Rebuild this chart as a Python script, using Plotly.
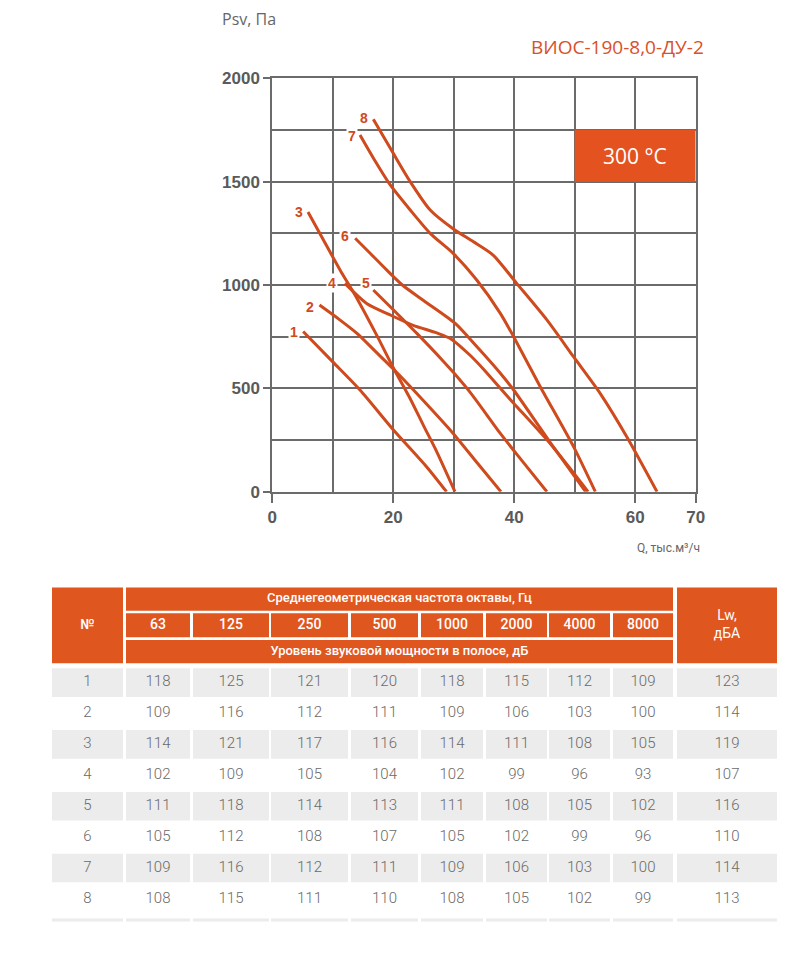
import plotly.graph_objects as go

W, H = 810, 968

# ---------------- chart data ----------------
curve_names = ["1", "2", "3", "4", "5", "6", "7", "8"]
q1 = [5.1, 10, 14.5, 20, 25.5, 28.8]
p1 = [775, 628, 492, 300, 121, 0]
q2 = [7.8, 11, 14, 17, 20.3, 25, 29.9, 34, 37.8]
p2 = [903, 835, 766, 680, 585, 440, 282, 135, 0]
q3 = [5.9, 8.5, 11.2, 14, 17.3, 20, 22.8, 25, 27, 30.2]
p3 = [1353, 1215, 1073, 935, 755, 600, 450, 320, 205, 0]
q4 = [12, 15.6, 19.5, 23.3, 27.2, 29.6, 32.7, 35, 37.7, 39.9, 45.9, 52.2]
p4 = [1008, 911, 855, 805, 768, 738, 660, 590, 500, 428, 234, 0]
q5 = [16.7, 19.5, 23.9, 28, 30, 33, 37.7, 41, 45.4]
p5 = [976, 895, 766, 640, 575, 470, 282, 160, 0]
q6 = [13.7, 16.3, 18.9, 21.5, 25, 30.2, 33.8, 37.7, 39.9, 45.9, 51.8]
p6 = [1226, 1150, 1073, 1000, 925, 815, 702, 573, 492, 240, 0]
q7 = [14.5, 17, 19.5, 22.8, 26.1, 29.9, 33.8, 37.7, 39.9, 44.3, 49.8, 53.4]
p7 = [1726, 1600, 1484, 1363, 1250, 1153, 1024, 863, 750, 508, 218, 0]
q8 = [16.7, 20, 22.8, 26.1, 30, 33.2, 36.5, 40.4, 45.4, 49.8, 54.2, 58.6, 63.6]
p8 = [1802, 1637, 1500, 1363, 1270, 1210, 1145, 1008, 831, 653, 476, 266, 0]
curves_q = [q1, q2, q3, q4, q5, q6, q7, q8]
curves_p = [p1, p2, p3, p4, p5, p6, p7, p8]

x_ticks = [0, 20, 40, 60, 70]
x_minor = [10, 30, 50]
y_ticks = [0, 500, 1000, 1500, 2000]
y_minor = [250, 750, 1250, 1750]

title_text = "ВИОС-190-8,0-ДУ-2"
y_title = "Psv, Па"
x_title = "Q, тыс.м³/ч"
temp_text = "300 °C"
temp_box_q = [50, 70]
temp_box_p = [1500, 1750]

# ---------------- table data ----------------
col_no_title = "№"
freq_title = "Среднегеометрическая частота октавы, Гц"
level_title = "Уровень звуковой мощности в полосе, дБ"
lw_title = "Lw,<br>дБА"
freqs = ["63", "125", "250", "500", "1000", "2000", "4000", "8000"]
row_ids = ["1", "2", "3", "4", "5", "6", "7", "8"]
levels = [
    [118, 125, 121, 120, 118, 115, 112, 109],
    [109, 116, 112, 111, 109, 106, 103, 100],
    [114, 121, 117, 116, 114, 111, 108, 105],
    [102, 109, 105, 104, 102, 99, 96, 93],
    [111, 118, 114, 113, 111, 108, 105, 102],
    [105, 112, 108, 107, 105, 102, 99, 96],
    [109, 116, 112, 111, 109, 106, 103, 100],
    [108, 115, 111, 110, 108, 105, 102, 99],
]
lw_values = [123, 114, 119, 107, 116, 110, 114, 113]

# ---------------- styles ----------------
LINE = "#cf4a1c"
ORANGE = "#e0561f"
GRID = "#6b6b6b"
TXT = "#5a5a5a"
ROWGRAY = "#ececec"
label_xshift = [-9, -9, -9, -13, -7, -10, -8, -9]
label_yshift = [0, -2, 0, 0, 7, 2, -1, 1]

# plot area in pixels
PX0, PX1 = 272.3, 695.7
PY0, PY1 = 491.7, 78.3

fig = go.Figure()

for name, q, p, dx, dy in zip(curve_names, curves_q, curves_p, label_xshift, label_yshift):
    fig.add_trace(go.Scatter(
        x=q, y=p, mode="lines",
        line=dict(color=LINE, width=3, shape="spline", smoothing=0.7),
        hoverinfo="skip", showlegend=False, xaxis="x", yaxis="y"))
    fig.add_annotation(
        x=q[0], y=p[0], xref="x", yref="y", text=name, showarrow=False,
        xanchor="center", yanchor="middle", xshift=dx, yshift=dy,
        bgcolor="white", borderpad=1,
        font=dict(family="Liberation Sans", size=14, color=LINE, weight="bold"))

# temperature box
fig.add_shape(type="rect", xref="x", yref="y",
              x0=temp_box_q[0], x1=temp_box_q[1], y0=temp_box_p[0], y1=temp_box_p[1],
              fillcolor="#e4531f", line=dict(width=0), layer="above")
fig.add_annotation(x=sum(temp_box_q) / 2, y=sum(temp_box_p) / 2, xref="x", yref="y",
                   text=temp_text, showarrow=False,
                   font=dict(family="Open Sans", size=21, color="white"))

# titles
fig.add_annotation(x=PX1 + 10, y=47, xref="x2", yref="y2", text=title_text,
                   showarrow=False, xanchor="right", yanchor="middle",
                   font=dict(family="Open Sans", size=19, color="#d9502a"))
fig.add_annotation(x=220, y=19, xref="x2", yref="y2", text=y_title,
                   showarrow=False, xanchor="left", yanchor="middle",
                   font=dict(family="Open Sans", size=16, color="#666666"))
fig.add_annotation(x=702, y=548, xref="x2", yref="y2", text=x_title,
                   showarrow=False, xanchor="right", yanchor="middle",
                   font=dict(family="Roboto", size=12, color="#666666"))

# ---------------- table (pixel axes x2/y2) ----------------
col_left = [52, 126, 193, 271, 351, 421, 486, 549, 613, 677]
col_right = [123, 190, 269, 348, 418, 483, 547, 610, 673, 777]
col_center = [(a + b) / 2 for a, b in zip(col_left, col_right)]
HDR_TOP = 587.5
HR1 = (587.5, 610.7)
HR2 = (613.3, 637.3)
HR3 = (640.0, 663.3)
ROW_TOP0, ROW_PITCH, ROW_H = 668.3, 30.9, 28.6

def rect(x0, x1, y0, y1, color):
    fig.add_shape(type="rect", xref="x2", yref="y2", x0=x0, x1=x1, y0=y0, y1=y1,
                  fillcolor=color, line=dict(width=0), layer="below")

# header rects
rect(col_left[0], col_right[0], HDR_TOP, HR3[1], ORANGE)
rect(col_left[-1], col_right[-1], HDR_TOP, HR3[1], ORANGE)
rect(col_left[1], col_right[-2], HR1[0], HR1[1], ORANGE)
for i in range(1, 9):
    rect(col_left[i], col_right[i], HR2[0], HR2[1], ORANGE)
rect(col_left[1], col_right[-2], HR3[0], HR3[1], ORANGE)

# data row backgrounds
for r in range(len(row_ids)):
    if r % 2 == 0:
        y0 = ROW_TOP0 + r * ROW_PITCH
        for i in range(10):
            rect(col_left[i], col_right[i], y0, y0 + ROW_H, ROWGRAY)
strip_y = ROW_TOP0 + len(row_ids) * ROW_PITCH + 3
for i in range(10):
    rect(col_left[i], col_right[i], strip_y, strip_y + 3, ROWGRAY)

# header texts
mid_x = (col_left[1] + col_right[-2]) / 2
fig.add_trace(go.Scatter(x=[col_center[0]], y=[(HDR_TOP + HR3[1]) / 2], text=[col_no_title],
                         mode="text", xaxis="x2", yaxis="y2",
                         textfont=dict(family="Roboto", size=14, color="white", weight=500),
                         hoverinfo="skip", showlegend=False, cliponaxis=False))
fig.add_trace(go.Scatter(x=[mid_x, mid_x], y=[sum(HR1) / 2, sum(HR3) / 2],
                         text=[freq_title, level_title], mode="text", xaxis="x2", yaxis="y2",
                         textfont=dict(family="Roboto", size=13, color="white", weight=500),
                         hoverinfo="skip", showlegend=False, cliponaxis=False))
fig.add_trace(go.Scatter(x=[col_center[-1]], y=[(HDR_TOP + HR3[1]) / 2], text=[lw_title],
                         mode="text", xaxis="x2", yaxis="y2",
                         textfont=dict(family="Roboto", size=14, color="white", weight=400),
                         hoverinfo="skip", showlegend=False, cliponaxis=False))
fig.add_trace(go.Scatter(x=col_center[1:9], y=[sum(HR2) / 2] * 8, text=freqs, mode="text",
                         xaxis="x2", yaxis="y2",
                         textfont=dict(family="Roboto", size=14, color="white", weight=500),
                         hoverinfo="skip", showlegend=False, cliponaxis=False))

# data texts
tx, ty, tt = [], [], []
for r, rid in enumerate(row_ids):
    yc = ROW_TOP0 + r * ROW_PITCH + ROW_H / 2
    vals = [rid] + [str(v) for v in levels[r]] + [str(lw_values[r])]
    for i, v in enumerate(vals):
        tx.append(col_center[i]); ty.append(yc); tt.append(v)
fig.add_trace(go.Scatter(x=tx, y=ty, text=tt, mode="text", xaxis="x2", yaxis="y2",
                         textfont=dict(family="Roboto", size=15, color="#6a6a6a", weight=300),
                         hoverinfo="skip", showlegend=False, cliponaxis=False))

axis_common = dict(showgrid=True, gridcolor=GRID, gridwidth=2, zeroline=False,
                   showline=True, linecolor=GRID, linewidth=2, mirror=True,
                   ticks="outside", tickwidth=2, tickcolor=GRID, fixedrange=True,
                   automargin=False,
                   tickfont=dict(family="Liberation Sans", size=17, color=TXT, weight="bold"))

fig.update_layout(
    width=W, height=H,
    margin=dict(l=0, r=0, t=0, b=0, pad=0, autoexpand=False),
    paper_bgcolor="white", plot_bgcolor="rgba(0,0,0,0)",
    showlegend=False,
    xaxis=dict(domain=[PX0 / W, PX1 / W], range=[0, 70], tickmode="array", tickvals=x_ticks,
               ticklen=9, anchor="y",
               minor=dict(tickmode="array", tickvals=x_minor, showgrid=True, gridcolor=GRID,
                          gridwidth=2, ticks=""),
               **axis_common),
    yaxis=dict(domain=[1 - PY0 / H, 1 - PY1 / H], range=[0, 2000], tickmode="array",
               tickvals=y_ticks, ticklen=7, anchor="x",
               minor=dict(tickmode="array", tickvals=y_minor, showgrid=True, gridcolor=GRID,
                          gridwidth=2, ticks=""),
               **axis_common),
    xaxis2=dict(domain=[0, 1], range=[0, W], visible=False, anchor="y2", fixedrange=True),
    yaxis2=dict(domain=[0, 1], range=[H, 0], visible=False, anchor="x2", fixedrange=True),
)

fig.write_html("out.html")
